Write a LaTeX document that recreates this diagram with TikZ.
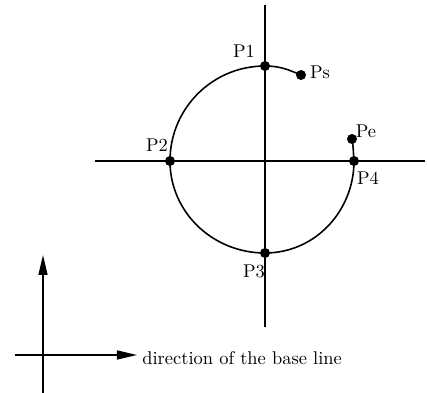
\documentclass[tikz,border=0pt]{standalone}
\usepackage{tikz}
\usetikzlibrary{arrows.meta,positioning,calc}

\begin{document}
\begin{tikzpicture}[every node/.style={font=\fontsize{10.5}{12}\selectfont},
    pt/.style={circle, fill=black, inner sep=0pt, minimum size=0.2cm},
    lbl/.style={inner sep=0pt}]
                    \useasboundingbox (-5.3,-4.64) rectangle (3.24,3.22);
                    % axes
                    \coordinate (vt) at (0,3.12);
                    \coordinate (vb) at (0,-3.32);
                    \coordinate (hl) at (-3.4,0);
                    \coordinate (hr) at (3.2,0);
                    \draw[line width=0.9pt] (vt) -- (vb);
                    \draw[line width=0.9pt] (hl) -- (hr);
                    % points on the path
                    \node[pt] (p1) at (0,1.9) {};
                    \node[pt] (p2) at (-1.9,0) {};
                    \node[pt] (p3) at (0,-1.84) {};
                    \node[pt] (p4) at (1.78,0) {};
                    \node[pt] (ps) at (0.72,1.72) {};
                    \node[pt] (pe) at (1.74,0.44) {};
                    % labels
                    \node[lbl] (l1) at (-0.42,2.2) {P1};
                    \node[lbl] (ls) at (1.1,1.78) {Ps};
                    \node[lbl] (l2) at (-2.16,0.32) {P2};
                    \node[lbl] (le) at (2.02,0.6) {Pe};
                    \node[lbl] (l4) at (2.06,-0.34) {P4};
                    \node[lbl] (l3) at (-0.22,-2.2) {P3};
                    % path
                    \draw[line width=0.9pt] (ps.center) to[out=157,in=0] (p1.center)
                        to[out=180,in=90] (p2.center)
                        to[out=-90,in=180] (p3.center)
                        to[out=0,in=-90] (p4.center)
                        to[out=95,in=-80] (pe.center);
                    % base line direction
                    \coordinate (ab) at (-4.44,-4.64);
                    \coordinate (at) at (-4.44,-1.88);
                    \coordinate (bl) at (-5.0,-3.88);
                    \coordinate (br) at (-2.56,-3.88);
                    \draw[line width=0.9pt,-{Triangle[length=0.4cm,width=0.18cm]}] (ab) -- (at);
                    \draw[line width=0.9pt,-{Triangle[length=0.4cm,width=0.18cm]}] (bl) -- (br);
                    \node[lbl, anchor=base west] (dir) at (-2.46,-4.08) {direction of the base line};
                \end{tikzpicture}
\end{document}
